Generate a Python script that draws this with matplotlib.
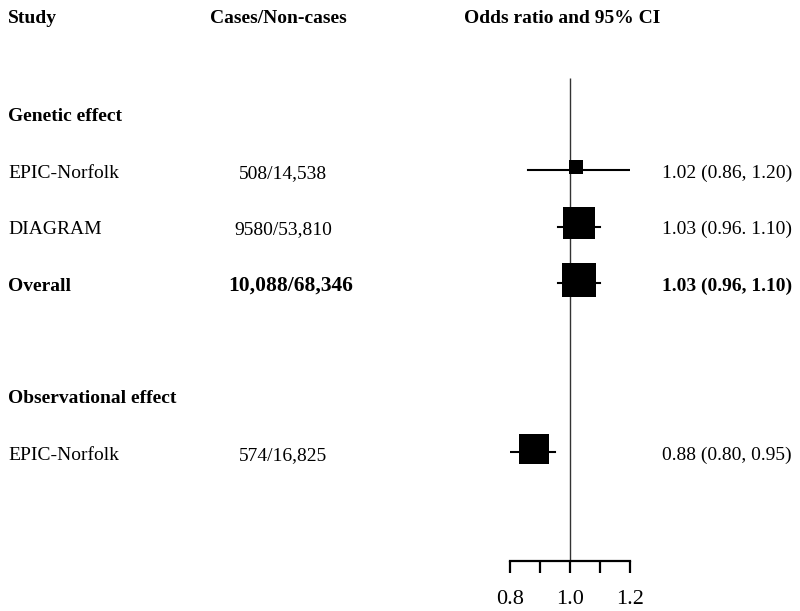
import matplotlib
matplotlib.use("Agg")
import matplotlib.pyplot as plt
from matplotlib.transforms import blended_transform_factory

plt.rcParams['font.family'] = ['Liberation Serif', 'DejaVu Serif']

# data
headers = ["Study", "Cases/Non-cases", "Odds ratio and 95% CI"]
sections = ["Genetic effect", "Observational effect"]
studies = ["EPIC-Norfolk", "DIAGRAM", "Overall", "EPIC-Norfolk"]
cases = ["508/14,538", "9580/53,810", "10,088/68,346", "574/16,825"]
odds = [1.02, 1.03, 1.03, 0.88]
ci_low = [0.86, 0.96, 0.96, 0.80]
ci_high = [1.20, 1.10, 1.10, 0.95]
ci_text = ["1.02 (0.86, 1.20)", "1.03 (0.96. 1.10)", "1.03 (0.96, 1.10)", "0.88 (0.80, 0.95)"]
bold_rows = [False, False, True, False]
tick_vals = [0.8, 0.9, 1.0, 1.1, 1.2]
tick_labels = ["0.8", "", "1.0", "", "1.2"]

# layout (row units)
section_rows = [0, 5]
study_rows = [1, 2, 3, 6]
header_row = -1.75
box_pt = [10, 23, 24, 21]
fs = 14
dy = 0.05  # text nudge

fig = plt.figure(figsize=(8, 6.11), dpi=100)
ax = fig.add_axes([510 / 800, 0, 120 / 800, 1])
ax.set_xlim(0.8, 1.2)
ax.set_ylim(8.812, -2.021)
tr = blended_transform_factory(fig.transFigure, ax.transData)

# headers
ax.text(8 / 800, header_row + dy, headers[0], transform=tr, fontsize=fs, fontweight='bold', va='center', ha='left')
ax.text(278 / 800, header_row + dy, headers[1], transform=tr, fontsize=fs, fontweight='bold', va='center', ha='center')
ax.text(562 / 800, header_row + dy, headers[2], transform=tr, fontsize=fs, fontweight='bold', va='center', ha='center')

for name, r in zip(sections, section_rows):
    ax.text(8 / 800, r + dy, name, transform=tr, fontsize=fs, fontweight='bold', va='center', ha='left')

for i, r in enumerate(study_rows):
    w = 'bold' if bold_rows[i] else 'normal'
    ax.text(8 / 800, r + dy, studies[i], transform=tr, fontsize=fs, fontweight=w, va='center', ha='left')
    if bold_rows[i]:
        ax.text(291 / 800, r + dy, cases[i], transform=tr, fontsize=15.5, fontweight=w, va='center', ha='center')
    else:
        ax.text(283 / 800, r + dy, cases[i], transform=tr, fontsize=fs, fontweight=w, va='center', ha='center')
    ax.text(662 / 800, r + dy, ci_text[i], transform=tr, fontsize=fs, fontweight=w, va='center', ha='left')
    ax.plot([ci_low[i], ci_high[i]], [r, r], color='black', lw=1.5, zorder=2)
    ax.plot(odds[i], r - 0.06, marker='s', markersize=box_pt[i], color='black',
            markeredgewidth=0, zorder=3)

# reference line
axis_y = 7.93
ax.vlines(1.0, -0.64, axis_y, color='#333333', lw=1, zorder=1)

for s in ['top', 'right', 'left']:
    ax.spines[s].set_visible(False)
ax.spines['bottom'].set_position(('data', axis_y))
ax.spines['bottom'].set_linewidth(1.6)
ax.set_xticks(tick_vals)
ax.set_xticklabels(tick_labels)
ax.tick_params(axis='x', direction='out', length=8.6, width=1.6, pad=12, labelsize=16)
ax.set_yticks([])
ax.patch.set_alpha(0)

fig.savefig("out.png", dpi=100)
